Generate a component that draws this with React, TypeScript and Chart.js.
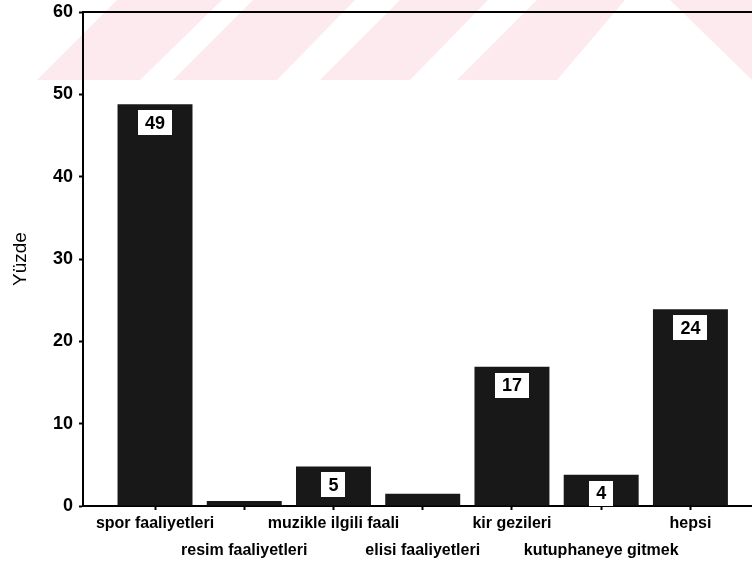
import React, { useEffect, useRef } from 'react';
import { Chart, registerables } from 'chart.js';

Chart.register(...registerables);

const categories = [
  'spor faaliyetleri',
  'resim faaliyetleri',
  'muzikle ilgili faali',
  'elisi faaliyetleri',
  'kir gezileri',
  'kutuphaneye gitmek',
  'hepsi',
];
const values = [48.8, 0.6, 4.8, 1.5, 16.9, 3.8, 23.9];
const valueLabels = ['49', '', '5', '', '17', '4', '24'];
const yTicks = [0, 10, 20, 30, 40, 50, 60];
const yTitle = 'Yüzde';

const FONT = 'Arial, "Liberation Sans", sans-serif';

// decorative watermark band (pink diagonal stripes) at the top of the image
const wmBands: number[][] = [
  // [bottomLeft, bottomRight, topLeft, topRight]
  [37, 140, 117, 222],
  [173, 277, 253, 355],
  [320, 410, 400, 488],
  [457, 557, 537, 625],
];

const watermarkPlugin = {
  id: 'watermark',
  beforeDraw(chart: any) {
    const ctx = chart.ctx;
    const yb = 80;
    ctx.save();
    ctx.fillStyle = 'rgb(252,234,238)';
    wmBands.forEach(([bl, br, tl, tr]) => {
      ctx.beginPath();
      ctx.moveTo(bl, yb);
      ctx.lineTo(br, yb);
      ctx.lineTo(tr, 0);
      ctx.lineTo(tl, 0);
      ctx.closePath();
      ctx.fill();
    });
    ctx.beginPath();
    ctx.moveTo(670, 0);
    ctx.lineTo(752, 0);
    ctx.lineTo(752, 80);
    ctx.closePath();
    ctx.fill();
    ctx.restore();
  },
};

const framePlugin = {
  id: 'frame',
  afterDraw(chart: any) {
    const { ctx, chartArea } = chart;
    ctx.save();
    ctx.strokeStyle = '#000';
    ctx.lineWidth = 2;
    ctx.beginPath();
    ctx.moveTo(chartArea.left, chartArea.top);
    ctx.lineTo(chartArea.right, chartArea.top);
    ctx.stroke();
    ctx.restore();
  },
};

const valueLabelPlugin = {
  id: 'valueLabels',
  afterDatasetsDraw(chart: any) {
    const ctx = chart.ctx;
    const meta = chart.getDatasetMeta(0);
    ctx.save();
    ctx.font = `bold 18px ${FONT}`;
    ctx.textAlign = 'center';
    ctx.textBaseline = 'middle';
    meta.data.forEach((bar: any, i: number) => {
      const txt = valueLabels[i];
      if (!txt) return;
      const w = ctx.measureText(txt).width + 14;
      const h = 25;
      const x = bar.x;
      const top = bar.y + 6;
      ctx.fillStyle = '#fff';
      ctx.fillRect(Math.round(x - w / 2), Math.round(top), Math.round(w), h);
      ctx.fillStyle = '#000';
      ctx.fillText(txt, x, top + h / 2 + 1);
    });
    ctx.restore();
  },
};

export default function App() {
  const ref = useRef<HTMLCanvasElement | null>(null);

  useEffect(() => {
    document.body.style.margin = '0';
    const canvas = ref.current;
    if (!canvas) return;
    const chart = new Chart(canvas, {
      type: 'bar',
      data: {
        datasets: [
          {
            data: values.map((v, i) => ({ x: i, y: v })),
            backgroundColor: '#181818',
            borderWidth: 0,
            barPercentage: 0.84,
            categoryPercentage: 1,
          },
        ],
      },
      plugins: [watermarkPlugin, framePlugin, valueLabelPlugin],
      options: {
        responsive: false,
        animation: false,
        events: [],
        layout: { padding: { top: 12, left: 0, right: 0, bottom: 0 } },
        plugins: {
          legend: { display: false },
          tooltip: { enabled: false },
          title: { display: false },
        },
        scales: {
          x: {
            type: 'linear',
            min: -0.807,
            max: 6.69,
            offset: false,
            grid: {
              offset: false,
              drawOnChartArea: false,
              drawTicks: true,
              tickLength: 4,
              tickWidth: 2,
              color: '#000',
            },
            border: { display: true, color: '#000', width: 2 },
            afterBuildTicks: (scale: any) => {
              scale.ticks = categories.map((_, i) => ({ value: i }));
            },
            afterFit: (scale: any) => {
              scale.height = 67;
            },
            ticks: {
              autoSkip: false,
              maxRotation: 0,
              minRotation: 0,
              padding: 0,
              color: '#000',
              font: { family: FONT, size: 16, weight: 'bold', lineHeight: 27 / 16 },
              callback: (v: any) => {
                const i = Math.round(Number(v));
                const lbl = categories[i] ?? '';
                return i % 2 === 0 ? [lbl, ''] : ['', lbl];
              },
            },
          },
          y: {
            min: 0,
            max: 60,
            afterBuildTicks: (scale: any) => {
              scale.ticks = yTicks.map((v) => ({ value: v }));
            },
            afterFit: (scale: any) => {
              scale.width = 83;
              scale.paddingTop = 0;
              scale.paddingBottom = 0;
            },
            grid: {
              drawOnChartArea: false,
              drawTicks: true,
              tickLength: 4,
              tickWidth: 2,
              color: '#000',
            },
            border: { display: true, color: '#000', width: 2 },
            ticks: {
              padding: 6,
              color: '#000',
              font: { family: FONT, size: 18, weight: 'bold', lineHeight: 1 },
            },
            title: {
              display: true,
              text: yTitle,
              color: '#000',
              padding: { top: 9, bottom: 0 },
              font: { family: FONT, size: 19, weight: 'normal' },
            },
          },
        },
      },
    } as any);
    return () => chart.destroy();
  }, []);

  return (
    <div style={{ width: 752, height: 573 }}>
      <canvas ref={ref} width={752} height={573} style={{ display: 'block' }} />
    </div>
  );
}
